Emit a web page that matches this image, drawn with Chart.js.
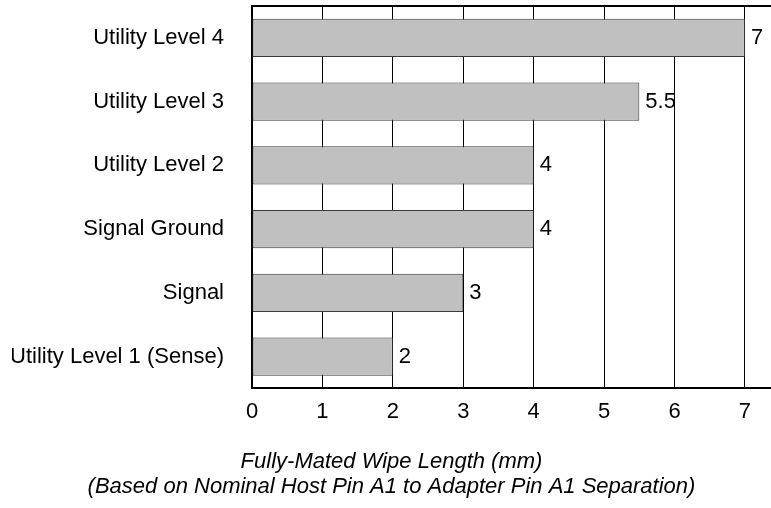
<!DOCTYPE html>
<html>
<head>
<meta charset="utf-8">
<script src="https://cdn.jsdelivr.net/npm/chart.js@4"></script>
<style>
html,body{margin:0;padding:0;background:#fff;}
#wrap{width:771px;height:508px;position:relative;}
</style>
</head>
<body>
<div id="wrap"><canvas id="c"></canvas></div>
<script>
const categories = ["Utility Level 4","Utility Level 3","Utility Level 2","Signal Ground","Signal","Utility Level 1 (Sense)"];
const wipeLengths = [7, 5.5, 4, 4, 3, 2];
const valueLabels = ["7","5.5","4","4","3","2"];
const xTickValues = [0,1,2,3,4,5,6,7];
const titleLines = ["Fully-Mated Wipe Length (mm)","(Based on Nominal Host Pin A1 to Adapter Pin A1 Separation)"];

const FONT = "'Liberation Sans', Arial, Helvetica, sans-serif";

const valueLabelPlugin = {
  id: 'valueLabels',
  afterDatasetsDraw(chart) {
    const ctx = chart.ctx;
    const meta = chart.getDatasetMeta(0);
    ctx.save();
    ctx.font = "22px " + FONT;
    ctx.fillStyle = "#000";
    ctx.textAlign = "left";
    ctx.textBaseline = "middle";
    meta.data.forEach((bar, i) => {
      ctx.fillText(valueLabels[i], bar.x + 6, bar.y);
    });
    ctx.restore();
  }
};

const topFramePlugin = {
  id: 'topFrame',
  afterDraw(chart) {
    const {ctx, chartArea} = chart;
    ctx.save();
    ctx.strokeStyle = '#000';
    ctx.lineWidth = 2;
    ctx.beginPath();
    ctx.moveTo(chartArea.left - 1, chartArea.top);
    ctx.lineTo(chart.width, chartArea.top);
    ctx.stroke();
    ctx.restore();
  }
};

new Chart(document.getElementById('c'), {
  type: 'bar',
  data: {
    labels: categories,
    datasets: [{
      data: wipeLengths,
      backgroundColor: '#c0c0c0',
      borderColor: '#3a3a3a',
      borderWidth: 1,
      borderSkipped: false,
      barPercentage: 0.6,
      categoryPercentage: 1.0
    }]
  },
  options: {
    indexAxis: 'y',
    responsive: true,
    maintainAspectRatio: false,
    animation: false,
    devicePixelRatio: 1,
    layout: { padding: { left: 12, right: 0, top: 6, bottom: 0 } },
    plugins: {
      legend: { display: false },
      tooltip: { enabled: false },
      title: {
        display: true,
        position: 'bottom',
        text: titleLines,
        color: '#000',
        font: { family: FONT, size: 22, style: 'italic', weight: 'normal', lineHeight: 1.14 },
        padding: { top: 14, bottom: 9 }
      }
    },
    scales: {
      x: {
        type: 'linear',
        position: 'bottom',
        min: 0,
        max: 7.37,
        afterBuildTicks(scale) { scale.ticks = xTickValues.map(v => ({ value: v })); },
        afterFit(scale) { scale.paddingLeft = 0; scale.paddingRight = 0; },
        ticks: {
          color: '#000',
          font: { family: FONT, size: 22 },
          padding: 10,
          maxRotation: 0
        },
        grid: { color: '#000', lineWidth: 1, drawTicks: false },
        border: { display: true, color: '#000', width: 2 }
      },
      y: {
        type: 'category',
        position: 'left',
        afterFit(scale) { scale.width = 240; scale.paddingTop = 0; scale.paddingBottom = 0; },
        ticks: {
          color: '#000',
          font: { family: FONT, size: 22 },
          padding: 28
        },
        grid: { display: false, drawTicks: false },
        border: { display: true, color: '#000', width: 2 }
      }
    }
  },
  plugins: [valueLabelPlugin, topFramePlugin]
});
</script>
</body>
</html>
